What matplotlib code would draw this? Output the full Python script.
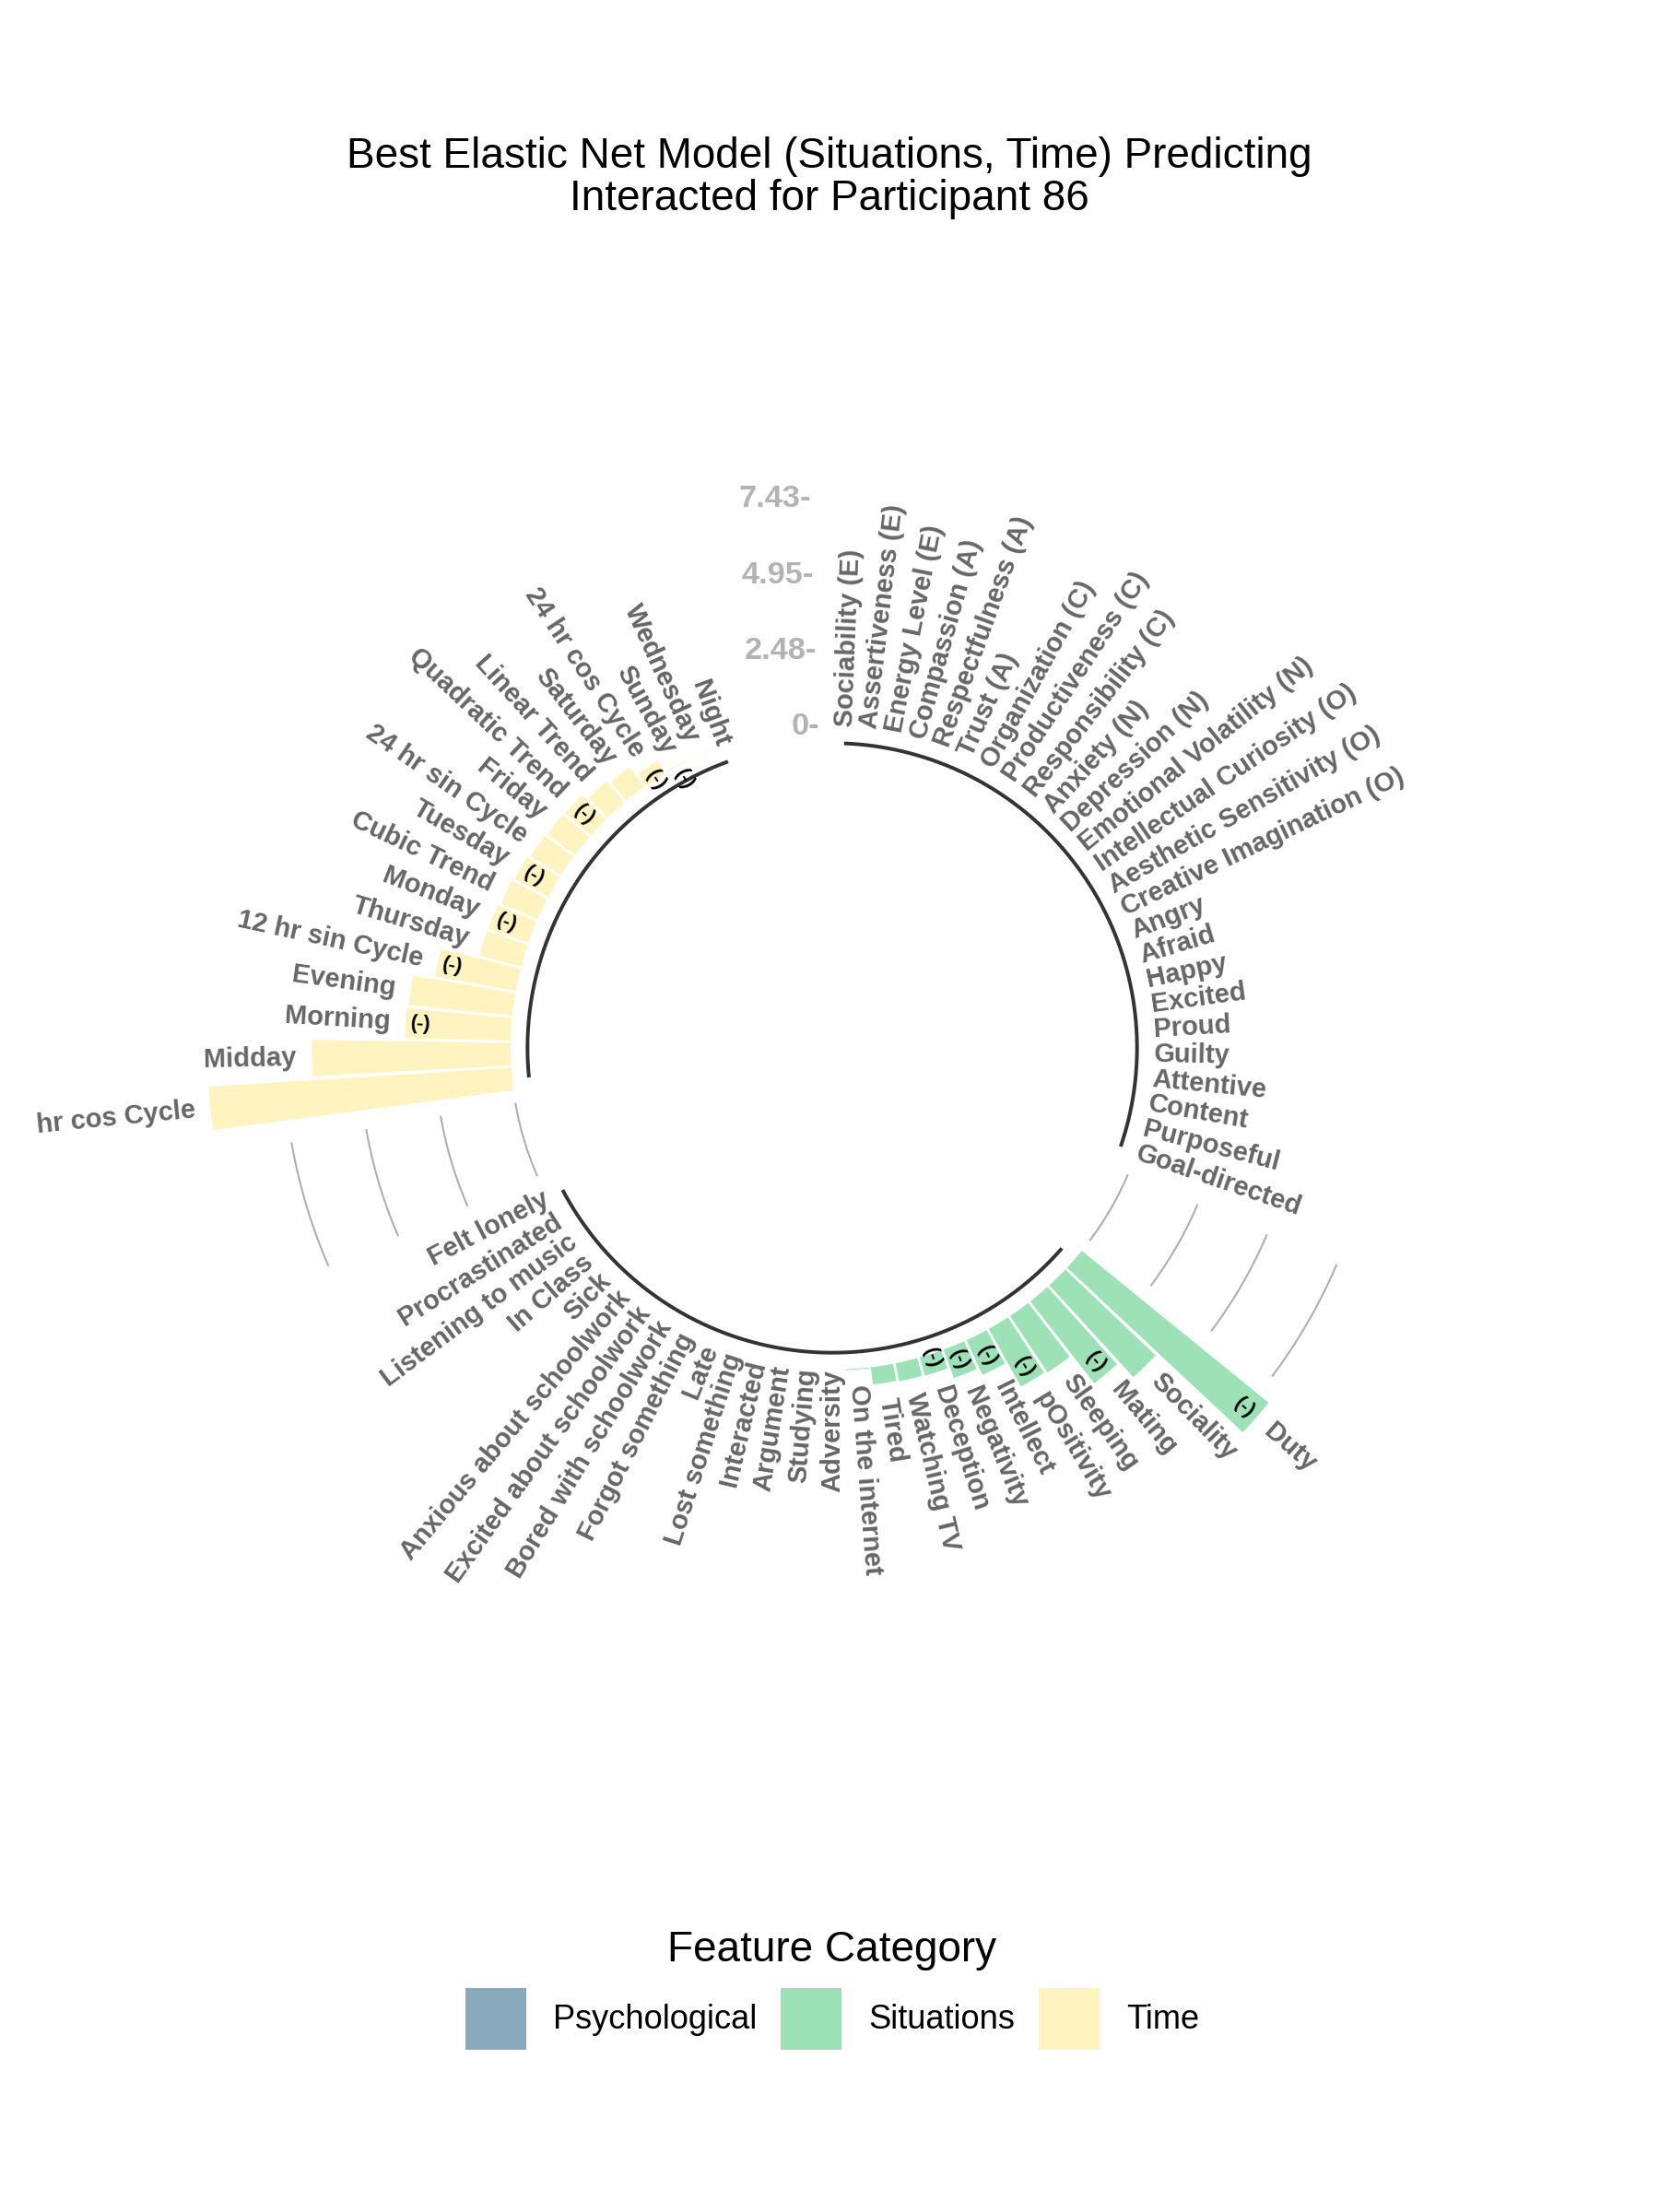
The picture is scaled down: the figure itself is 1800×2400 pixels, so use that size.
import numpy as np
import matplotlib
matplotlib.use("Agg")
import matplotlib.pyplot as plt
from matplotlib.patches import Patch
from matplotlib.transforms import Bbox, TransformedBbox

plt.rcParams['font.family'] = ['Liberation Sans', 'DejaVu Sans']

# ---------------- data ----------------
title = "Best Elastic Net Model (Situations, Time) Predicting\nInteracted for Participant 86"
legend_title = "Feature Category"
categories = ["Psychological", "Situations", "Time"]
category_colors = ["#88AABC", "#9DE2B7", "#FFF3BF"]

psych_labels = ["Sociability (E)", "Assertiveness (E)", "Energy Level (E)", "Compassion (A)",
                "Respectfulness (A)", "Trust (A)", "Organization (C)", "Productiveness (C)",
                "Responsibility (C)", "Anxiety (N)", "Depression (N)", "Emotional Volatility (N)",
                "Intellectual Curiosity (O)", "Aesthetic Sensitivity (O)", "Creative Imagination (O)",
                "Angry", "Afraid", "Happy", "Excited", "Proud", "Guilty", "Attentive", "Content",
                "Purposeful", "Goal-directed"]
psych_values = [0.0, 0.0, 0.0, 0.0, 0.0, 0.0, 0.0, 0.0, 0.0, 0.0, 0.0, 0.0, 0.0,
                0.0, 0.0, 0.0, 0.0, 0.0, 0.0, 0.0, 0.0, 0.0, 0.0, 0.0, 0.0]

situ_labels = ["Duty", "Sociality", "Mating", "Sleeping", "pOsitivity", "Intellect", "Negativity",
               "Deception", "Watching TV", "Tired", "On the internet", "Adversity", "Studying",
               "Argument", "Interacted", "Lost something", "Late", "Forgot something",
               "Bored with schoolwork", "Excited about schoolwork", "Anxious about schoolwork",
               "Sick", "In Class", "Listening to music", "Procrastinated", "Felt lonely"]
situ_values = [7.87, 4.07, 3.40, 2.22, 2.16, 1.25, 0.99, 0.62, 0.60, 0.57, 0.03, 0.0, 0.0,
               0.0, 0.0, 0.0, 0.0, 0.0, 0.0, 0.0, 0.0, 0.0, 0.0, 0.0, 0.0, 0.0]

time_labels = ["12 hr cos Cycle", "Midday", "Morning", "Evening", "12 hr sin Cycle", "Thursday",
               "Monday", "Cubic Trend", "Tuesday", "24 hr sin Cycle", "Friday", "Quadratic Trend",
               "Linear Trend", "Saturday", "24 hr cos Cycle", "Sunday", "Wednesday", "Night"]
time_values = [9.90, 6.50, 3.46, 3.40, 2.68, 1.40, 1.38, 1.30, 1.25, 1.16, 1.13, 1.11,
               0.90, 0.80, 0.47, 0.03, 0.01, 0.0]

negative_features = ["Duty", "Mating", "pOsitivity", "Intellect", "Negativity", "Deception",
                     "Morning", "12 hr sin Cycle", "Monday", "Tuesday", "Quadratic Trend",
                     "24 hr cos Cycle", "Sunday"]

tick_values = [0, 2.48, 4.95, 7.43]
tick_labels = ["0-", "2.48-", "4.95-", "7.43-"]

# ---------------- layout ----------------
W, H, DPI = 1800, 2400, 150
fig = plt.figure(figsize=(W / DPI, H / DPI), dpi=DPI)

cx, cy = 903, 1137          # circle centre in pixels (from top)
px_per_unit = 33.2
rmin, rmax = -10.51, 12.0
rad_px = (rmax - rmin) * px_per_unit
ax = fig.add_axes([(cx - rad_px) / W, (H - cy - rad_px) / H, 2 * rad_px / W, 2 * rad_px / H],
                  projection="polar")
ax.set_theta_zero_location("N")
ax.set_theta_direction(-1)
ax.set_ylim(rmin, rmax)
ax.set_axis_off()

# square panel region (text is clipped to it)
half_panel = 869
panel_box = TransformedBbox(
    Bbox([[(cx - half_panel) / W, (H - cy - half_panel) / H],
          [(cx + half_panel) / W, (H - cy + half_panel) / H]]), fig.transFigure)

groups = [(psych_labels, psych_values), (situ_labels, situ_values), (time_labels, time_values)]
n_empty = 4
n_slots = sum(len(l) for l, _ in groups) + n_empty * len(groups)
slot = 2 * np.pi / n_slots


def theta(i):
    return (i - 0.5) * slot


label_color = "#666666"
fs_label = 14
fs_neg = 10.5
base_y = -0.55

idx = 1
ranges = []
for g, (labels, values) in enumerate(groups):
    ids = np.arange(idx, idx + len(labels))
    th = theta(ids)
    ax.bar(th, values, width=0.9 * slot, bottom=0, color=category_colors[g],
           linewidth=0, align="center", zorder=2)
    for i, lab, v in zip(ids, labels, values):
        t = theta(i)
        ang = np.degrees(t)
        if ang < 180:
            rot, ha = 90 - ang, "left"
        else:
            rot, ha = 270 - ang, "right"
        y_lab = v + 0.5 if v > 0 else 0.0
        txt = ax.text(t, y_lab, lab, rotation=rot, ha=ha, va="center", rotation_mode="anchor",
                      fontsize=fs_label, fontweight="bold", color=label_color, zorder=4)
        txt.set_clip_path(None)
        txt.set_clip_box(panel_box)
        txt.set_clip_on(True)
        if lab in negative_features:
            ax.text(t, v - 0.5, "(-)", rotation=rot, ha="center", va="center",
                    rotation_mode="anchor", fontsize=fs_neg, fontweight="bold",
                    color="black", zorder=5)
    ranges.append((ids[0], ids[-1]))
    # base line for the group
    ts = np.linspace(theta(ids[0]), theta(ids[-1]), 300)
    ax.plot(ts, np.full_like(ts, base_y), color="#333333", lw=1.9,
            solid_capstyle="butt", zorder=3)
    idx += len(labels) + n_empty

# grid arcs in the gaps (not in the first gap)
for g in range(1, len(ranges)):
    t0 = theta(ranges[g - 1][1] + 1)
    t1 = theta(ranges[g][0] - 1)
    ts = np.linspace(t0, t1, 100)
    for tv in tick_values:
        ax.plot(ts, np.full_like(ts, tv), color="#AFAFAF", lw=1.0, zorder=1)

# value labels
for tv, tl in zip(tick_values, tick_labels):
    ax.text(theta(n_slots), tv, tl, ha="right", va="center", fontsize=16.5,
            fontweight="bold", color="#B3B3B3", zorder=4)

fig.text(0.5, 1 - 193 / H, title, ha="center", va="center", fontsize=22, linespacing=1.08)

handles = [Patch(facecolor=c, edgecolor="none") for c in category_colors]
fig.legend(handles, categories, loc="center", bbox_to_anchor=(903 / W, 1 - 2159 / H),
           ncol=3, frameon=False, fontsize=17.4, title=legend_title, title_fontsize=22,
           handlelength=1.82, handleheight=2.47, handletextpad=0.8, columnspacing=0.72,
           borderpad=0, borderaxespad=0)

fig.savefig("out.png", dpi=DPI, facecolor="white")
